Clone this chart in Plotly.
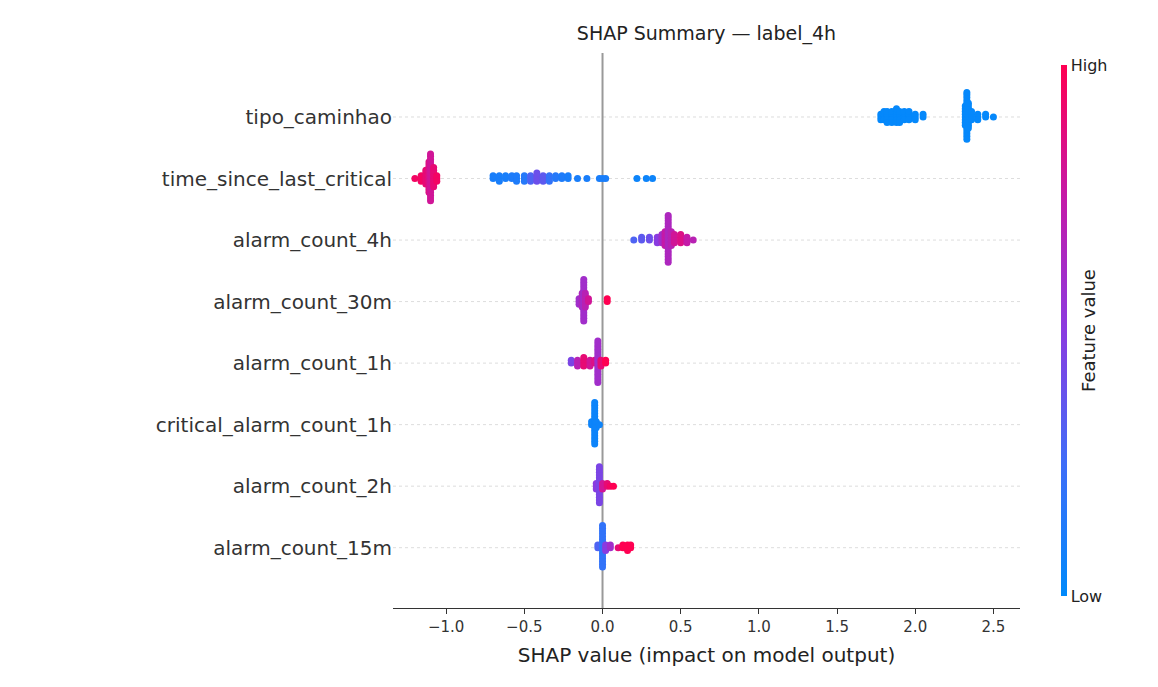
import plotly.graph_objects as go

features = ["tipo_caminhao", "time_since_last_critical", "alarm_count_4h", "alarm_count_30m",
            "alarm_count_1h", "critical_alarm_count_1h", "alarm_count_2h", "alarm_count_15m"]

# per-feature: SHAP value bins, number of points at each, feature value (0 low .. 1 high)
tipo_x = [1.78, 1.80, 1.82, 1.85, 1.88, 1.90, 1.93, 1.96, 2.00, 2.05, 2.32, 2.33, 2.34, 2.36, 2.40, 2.45, 2.50]
tipo_n = [3, 4, 5, 5, 6, 5, 4, 4, 3, 2, 8, 18, 10, 4, 3, 2, 1]
tipo_c = [0.02] * 17

tslc_x = [-1.20, -1.16, -1.13, -1.11, -1.10, -1.08, -1.06, -0.70, -0.66, -0.62, -0.58, -0.55, -0.50, -0.46,
          -0.42, -0.38, -0.34, -0.30, -0.26, -0.22, -0.16, -0.10, -0.02, 0.0, 0.02, 0.22, 0.28, 0.32]
tslc_n = [1, 3, 6, 12, 18, 8, 3, 2, 3, 2, 2, 3, 3, 3, 4, 3, 3, 2, 2, 2, 1, 1, 1, 1, 1, 1, 1, 1]
tslc_c = [0.95, 0.95, 0.9, 0.85, 0.8, 0.9, 0.95, 0.1, 0.1, 0.1, 0.12, 0.12, 0.15, 0.3, 0.4, 0.35, 0.2, 0.15,
          0.12, 0.1, 0.1, 0.1, 0.1, 0.1, 0.1, 0.05, 0.05, 0.05]

a4h_x = [0.20, 0.25, 0.30, 0.35, 0.38, 0.40, 0.42, 0.44, 0.46, 0.50, 0.54, 0.58]
a4h_n = [1, 2, 2, 3, 4, 6, 18, 6, 4, 4, 3, 1]
a4h_c = [0.3, 0.35, 0.4, 0.5, 0.6, 0.75, 0.65, 0.7, 0.8, 0.85, 0.75, 0.7]

a30_x = [-0.15, -0.13, -0.12, -0.11, -0.09, 0.03]
a30_n = [3, 6, 16, 6, 2, 2]
a30_c = [0.6, 0.65, 0.6, 0.7, 0.8, 1.0]

a1h_x = [-0.20, -0.16, -0.12, -0.08, -0.05, -0.03, -0.01, 0.02]
a1h_n = [2, 3, 4, 3, 2, 16, 3, 2]
a1h_c = [0.45, 0.7, 0.9, 0.8, 0.85, 0.6, 0.9, 1.0]

crit_x = [-0.07, -0.05, -0.04, -0.02]
crit_n = [2, 16, 3, 1]
crit_c = [0.05, 0.05, 0.05, 0.05]

a2h_x = [-0.04, -0.02, 0.0, 0.03, 0.05, 0.07]
a2h_n = [3, 14, 3, 2, 1, 1]
a2h_c = [0.5, 0.45, 0.8, 0.9, 0.95, 1.0]

a15_x = [-0.03, 0.0, 0.02, 0.05, 0.10, 0.13, 0.16, 0.18]
a15_n = [2, 16, 3, 2, 1, 2, 3, 2]
a15_c = [0.3, 0.2, 0.5, 0.6, 0.9, 1.0, 1.0, 1.0]

rows = [(tipo_x, tipo_n, tipo_c), (tslc_x, tslc_n, tslc_c), (a4h_x, a4h_n, a4h_c), (a30_x, a30_n, a30_c),
        (a1h_x, a1h_n, a1h_c), (crit_x, crit_n, crit_c), (a2h_x, a2h_n, a2h_c), (a15_x, a15_n, a15_c)]

# beeswarm stacking
step = 0.045
X, Y, C = [], [], []
nf = len(features)
for i, (xs, ns, cs) in enumerate(rows):
    base = nf - 1 - i
    for x, n, c in zip(xs, ns, cs):
        for k in range(n):
            off = ((k + 1) // 2) * step * (1 if k % 2 else -1)
            off = max(-0.4, min(0.4, off))
            X.append(x); Y.append(base + off); C.append(c)

cscale = [[0, "#008afb"], [0.25, "#3f6df8"], [0.5, "#8a3be0"], [0.75, "#c41aa8"], [1, "#ff0052"]]

fig = go.Figure()
fig.add_trace(go.Scatter(
    x=X, y=Y, mode="markers", hoverinfo="skip",
    marker=dict(size=7, color=C, colorscale=cscale, cmin=0, cmax=1, line=dict(width=0),
                colorbar=dict(x=1.066, xref="paper", xanchor="left", xpad=0,
                              y=0.5, yref="paper", len=551, lenmode="pixels", thickness=6, outlinewidth=0,
                              tickvals=[0, 1], ticktext=["Low", "High"], ticklen=0,
                              tickfont=dict(size=16, color="#222"),
                              title=dict(text="Feature value", side="right", font=dict(size=18, color="#222"))))
))

shapes = [dict(type="line", xref="paper", x0=0, x1=1, y0=j, y1=j, layer="below",
               line=dict(color="#dddddd", width=1, dash="dot")) for j in range(nf)]
shapes.append(dict(type="line", x0=0, x1=0, yref="paper", y0=0, y1=1, layer="below",
                   line=dict(color="#999999", width=2)))

fig.update_layout(
    width=1158, height=687, plot_bgcolor="white", paper_bgcolor="white",
    margin=dict(l=385, r=146, t=45, b=87, autoexpand=False),
    font=dict(family="DejaVu Sans", color="#333"),
    title=dict(text="SHAP Summary — label_4h", x=0.5, xref="paper", y=0.963, yanchor="middle",
               font=dict(size=19, color="#222")),
    showlegend=False, shapes=shapes,
    xaxis=dict(range=[-1.34, 2.67], tickvals=[-1.0, -0.5, 0.0, 0.5, 1.0, 1.5, 2.0, 2.5],
               ticktext=["−1.0", "−0.5", "0.0", "0.5", "1.0", "1.5", "2.0", "2.5"], automargin=False,
               showgrid=False, zeroline=False, showline=True, linecolor="#333", linewidth=1,
               ticks="outside", ticklen=5, tickcolor="#333", tickfont=dict(size=15),
               title=dict(text="SHAP value (impact on model output)", standoff=12, font=dict(size=20, color="#222"))),
    yaxis=dict(range=[-0.98, 8.04], tickvals=list(range(nf)), ticktext=features[::-1], automargin=False,
               showgrid=False, zeroline=False, showline=False, ticks="", tickfont=dict(size=20, color="#333")),
)
fig.write_html("out.html")
